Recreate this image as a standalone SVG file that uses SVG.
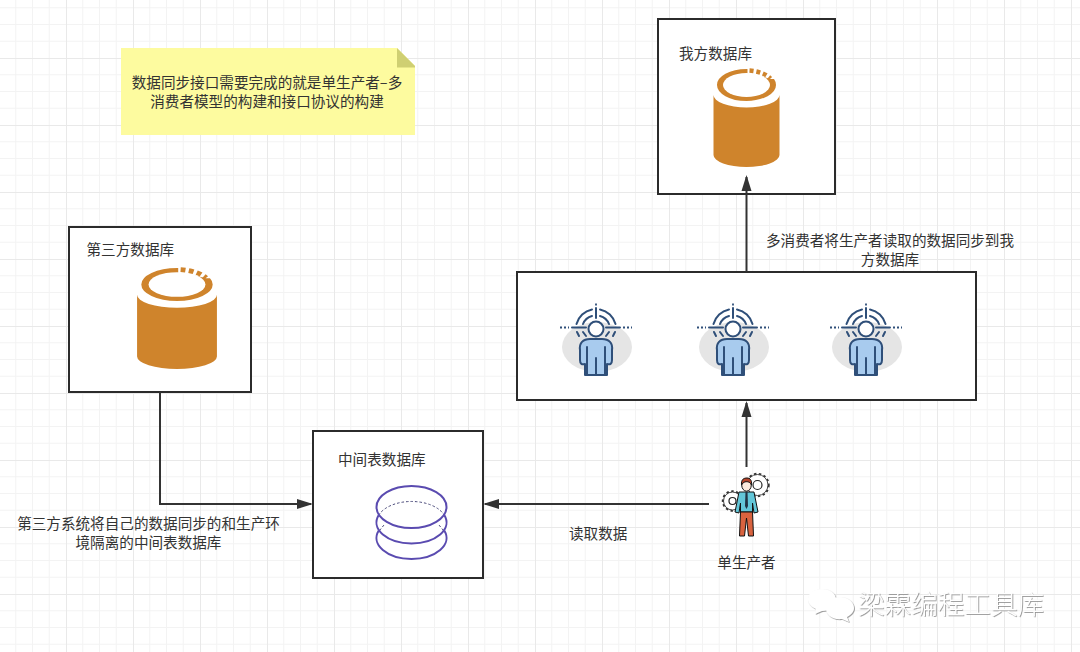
<svg xmlns="http://www.w3.org/2000/svg" width="1080" height="652" viewBox="0 0 1080 652">
  <style>
    text { font-family: "Noto Sans CJK SC", "Noto Sans", sans-serif; font-size: 14.6px; fill: #333; }
    .mid { text-anchor: middle; }
    .box { fill: #fff; stroke: #2b2b2b; stroke-width: 2; }
    .wire { fill: none; stroke: #333; stroke-width: 2; marker-end: url(#head); }
    .plate { fill: none; stroke: #5a4bb0; stroke-width: 2; }
    .hidden { fill: none; stroke: #4a4a7a; stroke-width: 1; stroke-dasharray: 2.5 2; }
    .ln { fill: none; stroke: #2f4f79; stroke-width: 2; stroke-linecap: round; stroke-linejoin: round; }
    .fine { stroke: #111; stroke-width: 1; }
    .mark { font-size: 26.6px; fill: #fff; font-weight: 300; filter: url(#emboss); }
  </style>
  <defs>
    <pattern id="grid" width="67" height="67" patternUnits="userSpaceOnUse" x="-1" y="-9">
      <path d="M16.75 0V67M33.5 0V67M50.25 0V67M0 16.75H67M0 33.5H67M0 50.25H67" fill="none" stroke="#f3f3f3" stroke-width="1"/>
      <path d="M0.5 0V67M0 0.5H67" fill="none" stroke="#e9e9e9" stroke-width="1"/>
    </pattern>
    <marker id="head" markerUnits="userSpaceOnUse" markerWidth="16" markerHeight="12" refX="14" refY="6" orient="auto">
      <path d="M0 1L16 6L0 11Z" fill="#333"/>
    </marker>
    <filter id="emboss" x="-5%" y="-10%" width="110%" height="120%">
      <feDropShadow dx="0.8" dy="0.8" stdDeviation="0.5" flood-color="#8a8a8a"/>
    </filter>
    <!-- storage drum, 66 wide by 99 tall, top centre at the origin -->
    <g id="drum">
      <path d="M-33 27A33 12.500 0 0 0 33 27V87A33 12 0 0 1 -33 87Z" fill="#cf842c"/>
      <ellipse cx="0" cy="17" rx="30.500" ry="17" fill="#cf842c" stroke="#fff" stroke-width="2"/>
      <ellipse cx="0" cy="17" rx="23.500" ry="12" fill="#fff"/>
      <path d="M1 -2H33V11L24 11L14 8L1 6Z" fill="#fff"/>
      <path d="M3 2.600A27 14.500 0 0 1 24 10.500" fill="none" stroke="#cf842c" stroke-width="4.500" stroke-dasharray="4 2.800"/>
    </g>
    <!-- consumer figure, head centre at the origin -->
    <g id="consumer">
      <ellipse cx="1" cy="18" rx="35" ry="25" fill="#e5e5e5"/>
      <path class="ln" d="M-16 21C-17 14 -13 10 -6 10H6C13 10 17 14 16 21V31C16 35 14 36 11 35V46H-11V35C-14 36 -16 35 -16 31Z" style="fill:#a8cbee"/>
      <path class="ln" d="M-9 18V46M9 18V46M0 29V46"/>
      <circle cx="0" cy="0" r="7.500" fill="#fff" stroke="#2f4f79" stroke-width="2"/>
      <path class="ln" d="M0 -11V-21M-24 -1.500H-10M10 -1.500H24"/>
      <path class="ln" d="M-13 -5A13.500 13.500 0 0 1 -4 -13M13 -5A13.500 13.500 0 0 0 4 -13M-19.500 -5A20 20 0 0 1 -4 -19.500M19.500 -5A20 20 0 0 0 4 -19.500M-13 3L-10 7M13 3L10 7M-19 3L-17 7M19 3L17 7"/>
      <path d="M-36 -1.500H-27M27 -1.500H36M0 -25.500V-23" fill="none" stroke="#2f4f79" stroke-width="1.800" stroke-dasharray="2 2"/>
    </g>
  </defs>

  <rect width="1080" height="652" fill="#fff"/>
  <rect width="1080" height="652" fill="url(#grid)"/>

  <g id="note">
    <path d="M121 48H397L415 66V135H121Z" fill="#fdfb9f"/>
    <path d="M397 48L415 66V67.500H397Z" fill="#cfcf72"/>
    <text class="mid" x="267" y="88">数据同步接口需要完成的就是单生产者–多</text>
    <text class="mid" x="267" y="107">消费者模型的构建和接口协议的构建</text>
  </g>

  <g id="our-db">
    <rect class="box" x="658" y="19" width="177" height="175"/>
    <text x="679" y="59">我方数据库</text>
    <use href="#drum" transform="translate(746.500 68)"/>
  </g>

  <g id="third-party-db">
    <rect class="box" x="69" y="227" width="182" height="165"/>
    <text x="86.500" y="255">第三方数据库</text>
    <use href="#drum" transform="translate(177 267) scale(1.21 1.03)"/>
  </g>

  <g id="staging-db">
    <rect class="box" x="313" y="431" width="170" height="147"/>
    <text x="338" y="465">中间表数据库</text>
    <path class="hidden" d="M378.600 515.300A35 21 0 0 1 444.400 515.300"/>
    <path class="hidden" d="M379.500 530.500L384 525M443.500 530.500L439 525"/>
    <ellipse class="plate" cx="411.500" cy="507" rx="35" ry="21"/>
    <path class="plate" d="M378.600 515.300A35 21 0 1 0 444.400 515.300"/>
    <path class="plate" d="M378.600 530.800A35 21 0 1 0 444.400 530.800"/>
  </g>

  <g id="consumers">
    <rect class="box" x="517" y="272" width="459" height="128"/>
    <use href="#consumer" x="596" y="329"/>
    <use href="#consumer" x="733" y="329"/>
    <use href="#consumer" x="866" y="329"/>
  </g>

  <g id="producer">
    <circle cx="757.500" cy="485" r="11" fill="#fff" stroke="#333" stroke-width="2.400" stroke-dasharray="2.400 2.400"/>
    <circle cx="757.500" cy="485" r="10.500" fill="#fff" stroke="#333" stroke-width="0.900"/>
    <circle cx="757.500" cy="485" r="4.500" fill="#fff" stroke="#222" stroke-width="1.200"/>
    <circle cx="732.500" cy="501" r="9.500" fill="#fff" stroke="#333" stroke-width="2.400" stroke-dasharray="2.400 2.400"/>
    <circle cx="732.500" cy="501" r="9" fill="#fff" stroke="#333" stroke-width="0.900"/>
    <circle cx="732.500" cy="501" r="3.500" fill="#fff" stroke="#222" stroke-width="1.200"/>
    <ellipse cx="746.500" cy="485" rx="4.800" ry="6.200" fill="#fbe9dc" class="fine"/>
    <path d="M741.500 485C741 479 744 478 747 478C750 478 752 480 751.500 485C750 481 745 481 743 483Z" fill="#b5452b" class="fine"/>
    <path d="M739 492H754L758 512L754 513L752.500 503V512H740.500V503L739 513L735 512Z" fill="#63c6d8" class="fine"/>
    <path d="M740.500 512H752.500L753.500 536H748.500L746.500 518L744.500 536H739.500Z" fill="#d9633f" class="fine"/>
    <path d="M745.500 492H747.500L748 506L746.500 509L745 506Z" fill="#234"/>
    <text class="mid" x="746.500" y="568">单生产者</text>
  </g>

  <g id="connectors">
    <path class="wire" d="M160 392V504H311"/>
    <path class="wire" d="M709 504H485"/>
    <path class="wire" d="M746.500 467V403"/>
    <path class="wire" d="M746.500 272V177"/>
  </g>

  <g id="labels">
    <text class="mid" x="890" y="245.500">多消费者将生产者读取的数据同步到我</text>
    <text class="mid" x="890" y="264.500">方数据库</text>
    <text class="mid" x="148.500" y="528.500">第三方系统将自己的数据同步的和生产环</text>
    <text class="mid" x="148.500" y="547.500">境隔离的中间表数据库</text>
    <text x="569" y="539">读取数据</text>
  </g>

  <g id="brand">
    <g filter="url(#emboss)" fill="#fff">
      <path d="M816 609C809 606 808 601 808 599C808 593 814 589 822 589C830 589 836 593 836 600C836 606 830 611 822 611L815 614Z"/>
      <path d="M847 617L849 622L842 619C832 620 826 615 826 608C826 602 832 597 840 597C848 597 854 602 854 608C854 612 851 615 847 617Z"/>
    </g>
    <text class="mark" x="858" y="614">梁霖编程工具库</text>
  </g>
</svg>
